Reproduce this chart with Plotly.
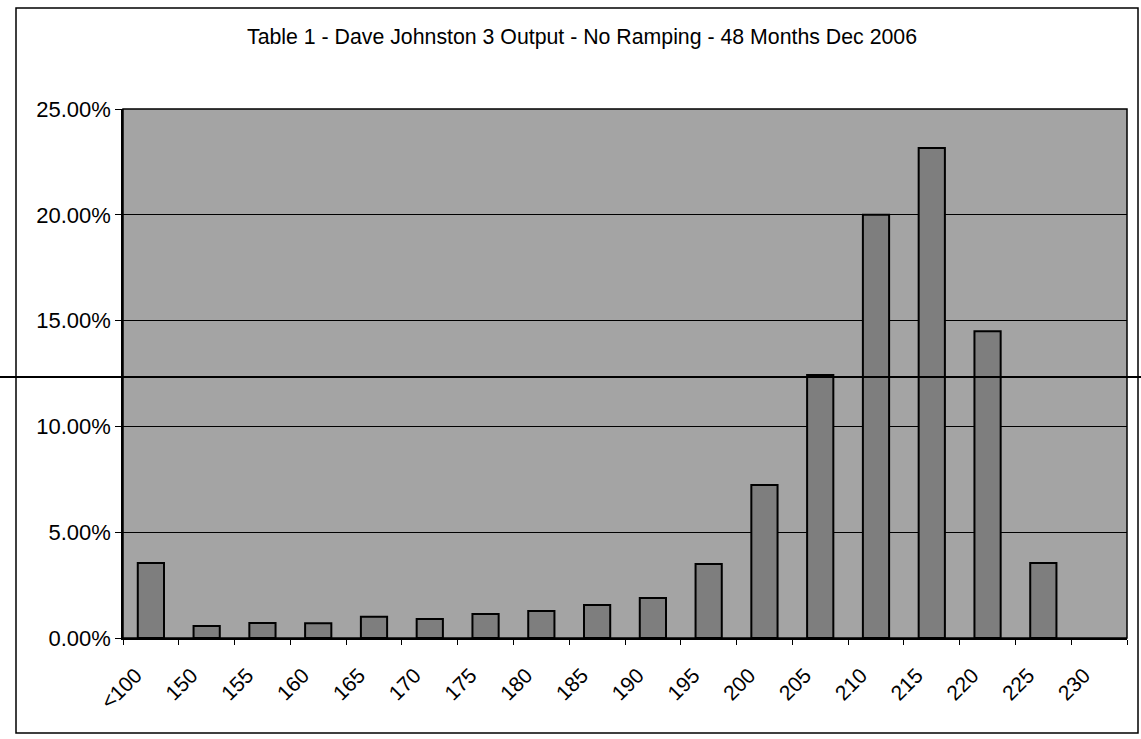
import plotly.graph_objects as go

categories = ["<100", "150", "155", "160", "165", "170", "175", "180", "185",
              "190", "195", "200", "205", "210", "215", "220", "225", "230"]
shares = [0.0354, 0.0057, 0.0071, 0.0070, 0.0100, 0.0090, 0.0113, 0.0128, 0.0156,
          0.0189, 0.0350, 0.0723, 0.1243, 0.2000, 0.2316, 0.1450, 0.0355, 0.0]
title_text = "Table 1 - Dave Johnston 3 Output - No Ramping - 48 Months Dec 2006"

W, H = 1141, 739
L, R, T, B = 123, 1127, 109, 638
pw, ph = R - L, B - T

def px(x):
    return (x - L) / pw

def py(y):
    return (B - y) / ph

outline_widths = [2 if v > 0 else 0 for v in shares]

fig = go.Figure(go.Bar(
    x=categories, y=shares,
    marker=dict(color="#7e7e7e", line=dict(color="black", width=outline_widths)),
    width=0.47,
))

fig.update_layout(
    width=W, height=H,
    margin=dict(l=L, r=W - R, t=T, b=H - B),
    paper_bgcolor="white",
    plot_bgcolor="#a4a4a4",
    font=dict(family="Liberation Sans, Arial", color="black"),
    showlegend=False,
    title=dict(text=title_text, x=582 / W, xanchor="center", y=1 - 37 / H,
               yanchor="middle", font=dict(size=21.3, color="black")),
    xaxis=dict(
        type="category", tickangle=-45, tickson="boundaries",
        ticks="outside", ticklen=5, tickcolor="black",
        showline=True, linecolor="black", linewidth=1.5,
        showgrid=False, tickfont=dict(size=21),
        ticklabelstandoff=15, ticklabelshift=-15,
    ),
    yaxis=dict(
        range=[0, 0.25], dtick=0.05, tickformat=".2%",
        ticks="outside", ticklen=6, tickcolor="black",
        showline=True, linecolor="black", linewidth=1.5,
        showgrid=True, gridcolor="black", gridwidth=1,
        tickfont=dict(size=22), zeroline=False, ticklabelstandoff=0,
    ),
    shapes=[
        dict(type="rect", xref="paper", yref="paper",
             x0=px(16), x1=px(1138), y0=py(733), y1=py(8),
             line=dict(color="black", width=1.5), fillcolor="rgba(0,0,0,0)",
             layer="below"),
        dict(type="line", xref="paper", yref="paper",
             x0=px(0), x1=px(1141), y0=py(377), y1=py(377),
             line=dict(color="black", width=2)),
        dict(type="rect", xref="paper", yref="paper",
             x0=0, x1=1, y0=0, y1=1,
             line=dict(color="black", width=1.5), fillcolor="rgba(0,0,0,0)"),
    ],
)

fig.write_html("out.html")
